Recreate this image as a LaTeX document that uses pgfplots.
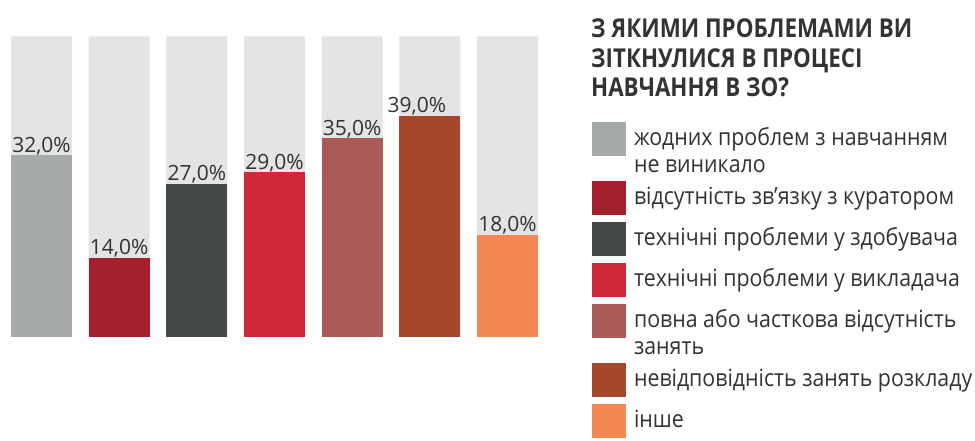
\documentclass[border=0pt]{standalone}
\usepackage{pgfplots}
\pgfplotsset{compat=1.18}
\usepackage{fontspec}
\setmainfont{Open Sans}
\newfontfamily\legfont[FakeStretch=0.9]{Open Sans}
\newfontfamily\titfont[FakeStretch=0.86]{Open Sans}
\definecolor{bgc}{HTML}{E4E4E5}
\definecolor{c1}{HTML}{A7AAAA}
\definecolor{c2}{HTML}{A51F2C}
\definecolor{c3}{HTML}{45494A}
\definecolor{c4}{HTML}{D0283A}
\definecolor{c5}{HTML}{AB5B57}
\definecolor{c6}{HTML}{A5472C}
\definecolor{c7}{HTML}{F38853}
\definecolor{txt}{HTML}{333333}
\pgfplotsset{
  mybar/.style={ybar, bar shift=0pt, draw=none, fill=#1,
    nodes near coords={\pgfmathprintnumber[fixed,fixed zerofill,precision=1,use comma,assume math mode=true]{\pgfplotspointmeta}\%},
    every node near coord/.append style={anchor=base, inner sep=0pt, yshift=3pt,
      font=\fontsize{21}{25}\selectfont, text=txt},
    legend image code/.code={\fill[##1] (0pt,-11pt) rectangle (34pt,23pt);}},
  mybartwo/.style={mybar=#1,
    legend image code/.code={\fill[##1] (0pt,16.5pt) rectangle (34pt,50.5pt);}},
}
\begin{document}
\begin{tikzpicture}
\useasboundingbox (-11pt,-104pt) rectangle (964pt,337pt);
\begin{axis}[
  at={(0pt,0pt)}, anchor=south west,
  width=527pt, height=300.7pt, scale only axis,
  xmin=-0.3927, xmax=6.3927, ymin=0, ymax=53,
  hide axis, clip=false,
  bar width=61pt,
  legend cell align=left,
  legend style={at={(1.1025,0.715)}, anchor=north west, draw=none, fill=none,
    inner sep=0pt, outer sep=0pt, row sep=7pt, column sep=8pt,
    font=\legfont\fontsize{23.7}{27.5}\selectfont, text=txt,
    nodes={anchor=base west, inner sep=0pt, align=left}},
]
\addplot[ybar, bar shift=0pt, draw=none, fill=bgc, forget plot] coordinates {(0,53) (1,53) (2,53) (3,53) (4,53) (5,53) (6,53)};
\addplot[mybartwo=c1] coordinates {(0,32)};
\addlegendentry{жодних проблем з навчанням\\не виникало}
\addplot[mybar=c2] coordinates {(1,14)};
\addlegendentry{відсутність зв’язку з куратором}
\addplot[mybar=c3] coordinates {(2,27)};
\addlegendentry{технічні проблеми у здобувача}
\addplot[mybar=c4] coordinates {(3,29)};
\addlegendentry{технічні проблеми у викладача}
\addplot[mybartwo=c5] coordinates {(4,35)};
\addlegendentry{повна або часткова відсутність\\занять}
\addplot[mybar=c6, every node near coord/.append style={xshift=-13pt}] coordinates {(5,39)};
\addlegendentry{невідповідність занять розкладу}
\addplot[mybar=c7] coordinates {(6,18)};
\addlegendentry{інше}
\end{axis}
\node[anchor=base west, align=left, inner sep=0pt, text=txt,
  font=\titfont\bfseries\fontsize{26}{29.5}\selectfont] at (580pt,240pt)
  {З ЯКИМИ ПРОБЛЕМАМИ ВИ\\ЗІТКНУЛИСЯ В ПРОЦЕСІ\\НАВЧАННЯ В ЗО?};
\end{tikzpicture}
\end{document}
